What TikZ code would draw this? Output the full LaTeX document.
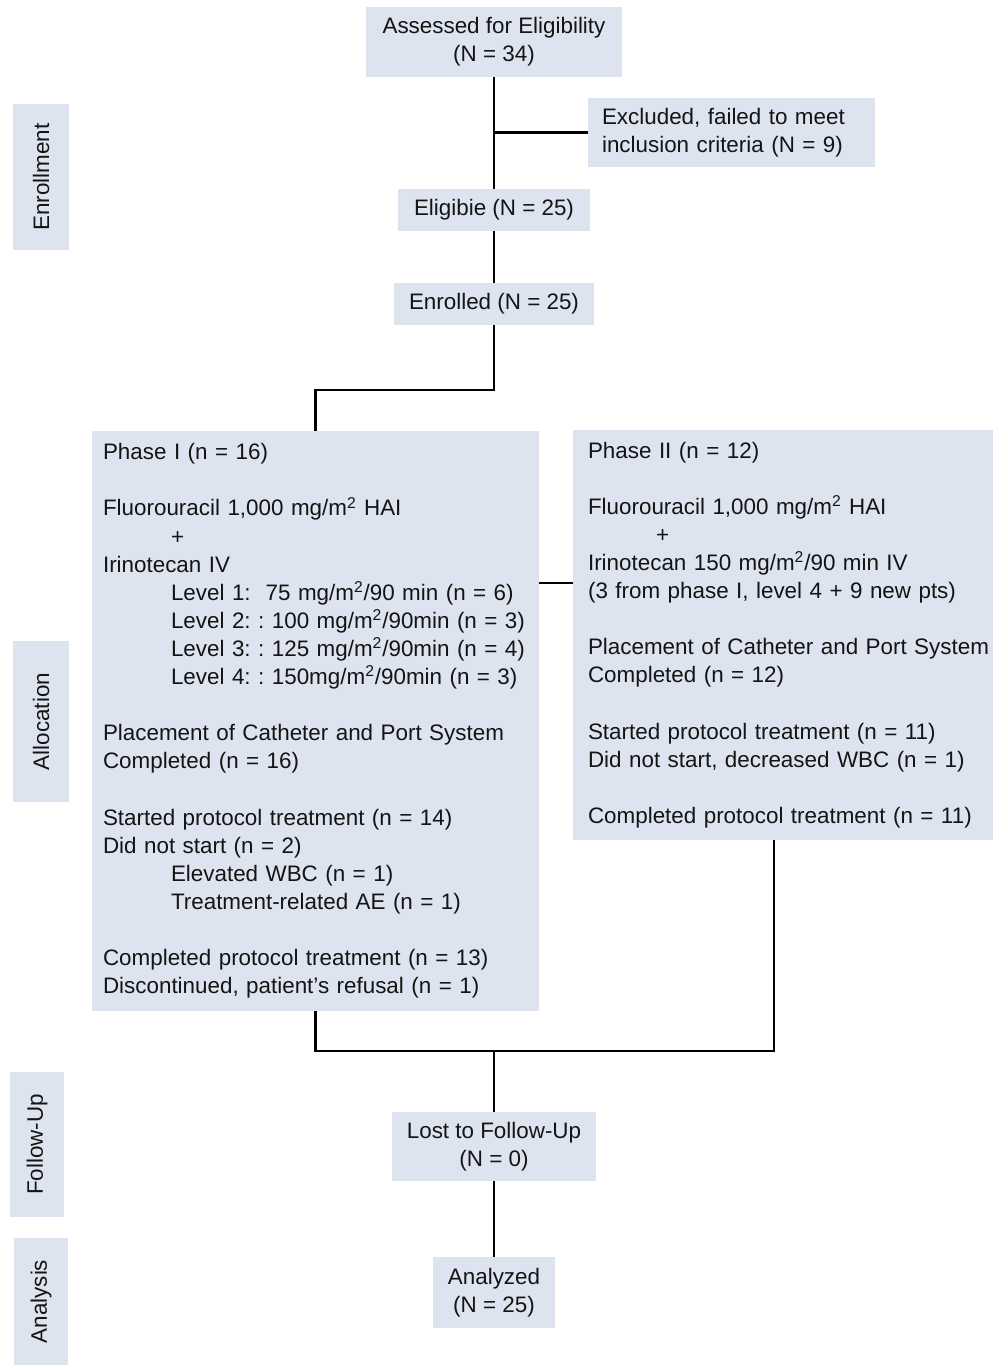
\documentclass[tikz,border=0pt]{standalone}
\usepackage{fontspec}
\setmainfont{Liberation Sans}
\usetikzlibrary{positioning,calc}
\definecolor{PaleBlue}{RGB}{221,228,239}
\definecolor{InkGray}{RGB}{20,20,20}
\tikzset{
  box/.style={fill=PaleBlue,inner sep=0pt,align=center,text=InkGray,
    font=\fontsize{12.75}{16}\selectfont\frenchspacing},
  stage/.style={fill=PaleBlue,rotate=90,inner sep=0pt,text=InkGray,
    font=\fontsize{12.75}{16}\selectfont},
  panel/.style={fill=PaleBlue,align=left,inner ysep=0pt,text=InkGray,
    font=\fontsize{12.75}{16}\selectfont\frenchspacing},
  link/.style={line width=1.4pt,black}
}
\newcommand{\ind}{\hspace*{1.36cm}}
\newcommand{\msq}{m\textsuperscript{2}}

\begin{document}
\begin{tikzpicture}[x=0.02cm,y=-0.02cm]
\useasboundingbox (0,0) rectangle (993,1365);

% Stage labels
\node[stage,minimum width=2.92cm,minimum height=1.12cm] (senrol) at (41,177) {Enrollment};
\node[stage,minimum width=3.22cm,minimum height=1.12cm] (salloc) at (41,721.5) {Allocation};
\node[stage,minimum width=2.9cm,minimum height=1.08cm] (sfollow) at (37,1144.5) {Follow-Up};
\node[stage,minimum width=2.54cm,minimum height=1.08cm] (sanal) at (41,1301.5) {Analysis};

% Enrollment boxes
\node[box,minimum width=5.14cm,minimum height=1.4cm] (assess) at (494,42)
  {Assessed for Eligibility\\(N = 34)};
\node[
  box,
  align=left,
  text width=5.18cm,
  inner xsep=0.28cm,
  minimum height=1.38cm
] (excl) at (731.5,132.5) {Excluded, failed to meet\\inclusion criteria (N = 9)};
\node[box,minimum width=3.84cm,minimum height=0.84cm] (elig) at (494,210) {Eligibie (N = 25)};
\node[box,minimum width=4.02cm,minimum height=0.84cm] (enrol) at (494,304) {Enrolled (N = 25)};

% Phase panels
\node[
  panel,
  text width=8.5cm,
  inner xsep=0.22cm,
  minimum height=11.6cm
] (phase1) at (315.5,721) {Phase I (n = 16)\\[16pt]
  Fluorouracil 1,000 mg/\msq{} HAI\\
  \ind+\\
  Irinotecan IV\\
  \ind Level 1:\ \ 75 mg/\msq/90 min (n = 6)\\
  \ind Level 2: : 100 mg/\msq/90min (n = 3)\\
  \ind Level 3: : 125 mg/\msq/90min (n = 4)\\
  \ind Level 4: : 150mg/\msq/90min (n = 3)\\[16pt]
  Placement of Catheter and Port System\\
  Completed (n = 16)\\[16pt]
  Started protocol treatment (n = 14)\\
  Did not start (n = 2)\\
  \ind Elevated WBC (n = 1)\\
  \ind Treatment-related AE (n = 1)\\[16pt]
  Completed protocol treatment (n = 13)\\
  Discontinued, patient’s refusal (n = 1)};
\node[
  panel,
  text width=7.8cm,
  inner xsep=0.3cm,
  minimum height=8.2cm
] (phase2) at (783,635) {Phase II (n = 12)\\[16pt]
  Fluorouracil 1,000 mg/\msq{} HAI\\
  \ind+\\
  Irinotecan 150 mg/\msq/90 min IV\\
  (3 from phase I, level 4 + 9 new pts)\\[16pt]
  \makebox[7.8cm][l]{Placement of Catheter and Port System}\\
  Completed (n = 12)\\[16pt]
  Started protocol treatment (n = 11)\\
  Did not start, decreased WBC (n = 1)\\[16pt]
  Completed protocol treatment (n = 11)};

% Follow-up and analysis
\node[box,minimum width=4.1cm,minimum height=1.38cm] (lost) at (494,1146.5)
  {Lost to Follow-Up\\(N = 0)};
\node[box,minimum width=2.46cm,minimum height=1.42cm] (anal) at (494,1292.5)
  {Analyzed\\(N = 25)};

% Connectors
\coordinate (split) at (494,390);
\coordinate (bridge) at (556,583);
\coordinate (merge) at (494,1051);
\draw[link] (assess) -- (elig);
\draw[link] (assess.south |- excl.west) -- (excl.west);
\draw[link] (elig) -- (enrol);
\draw[link] (enrol.south) -- (split) -| (phase1.north);
\draw[link] (phase1.east |- bridge) -- (phase2.west |- bridge);
\draw[link] (phase1.south) |- (merge);
\draw[link] ([xshift=-0.18cm]phase2.south) |- (merge);
\draw[link] (merge) -- (lost);
\draw[link] (lost) -- (anal);

\end{tikzpicture}
\end{document}
